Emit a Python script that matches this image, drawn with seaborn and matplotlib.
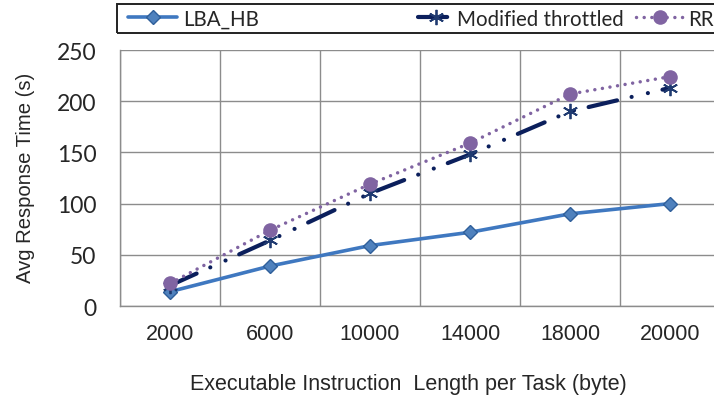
import numpy as np
import pandas as pd
import seaborn as sns
import matplotlib.pyplot as plt
from matplotlib.patches import Rectangle

# data
lengths = ["2000", "6000", "10000", "14000", "18000", "20000"]
lba_hb = [14, 39, 59, 72, 90, 100]
modified_throttled = [20, 64, 110, 148, 190, 213]
rr = [22, 74, 119, 159, 207, 224]
series_names = ["LBA_HB", "Modified throttled", "RR"]
y_ticks = [0, 50, 100, 150, 200, 250]

df = pd.DataFrame({
    "length": lengths * 3,
    "time": lba_hb + modified_throttled + rr,
    "series": np.repeat(series_names, len(lengths)),
})

sns.set_style("white")
plt.rcParams["font.family"] = ["Liberation Sans", "DejaVu Sans"]

colors = {"LBA_HB": "#3F78C0", "Modified throttled": "#0B1F5C", "RR": "#8064A2"}
# round caps: near-zero "on" segments become dots
dashes = {"LBA_HB": "",
          "Modified throttled": (7.0, 3.6, 0.01, 4.0, 0.01, 3.6),
          "RR": (0.01, 2.2)}
markers = {"LBA_HB": "D", "Modified throttled": "s", "RR": "o"}
widths = {"LBA_HB": 2.6, "Modified throttled": 3.0, "RR": 2.5}

fig = plt.figure(figsize=(7.14, 4.02), dpi=100)
ax = fig.add_axes([120 / 714, 1 - 307 / 402, 600 / 714, 256 / 402])

sns.lineplot(data=df, x="length", y="time", hue="series", style="series",
             palette=colors, dashes=dashes, markers=markers, ax=ax,
             linewidth=2.6, legend=False)

# per-line tuning (asterisk is line art, so it is set afterwards)
ms = {"LBA_HB": 7.5, "Modified throttled": 11, "RR": 10.5}
for line, name in zip(ax.lines, series_names):
    line.set_linewidth(widths[name])
    if dashes[name]:
        line.set_dashes(dashes[name])
    line.set_dash_capstyle("round")
    line.set_markersize(ms[name])
    if name == "LBA_HB":
        line.set_markeredgecolor("#2F5F9A")
        line.set_markerfacecolor("#4F81BD")
        line.set_markeredgewidth(1)
    elif name == "Modified throttled":
        line.set_marker((6, 2, 0))
        line.set_markeredgewidth(1.3)
        line.set_markeredgecolor("#1F3A70")
    else:
        line.set_markeredgewidth(0)

ax.set_xlim(-0.5, len(lengths) - 0.5)
ax.set_ylim(0, 250)
ax.set_yticks(y_ticks)
ax.set_xticks(range(len(lengths)))
ax.set_xticks(np.arange(-0.5, len(lengths)), minor=True)
ax.tick_params(axis="x", which="major", length=0, pad=12, labelsize=15.5)
ax.tick_params(axis="x", which="minor", length=6, color="#888888", width=1, direction="out")
ax.tick_params(axis="y", length=7, color="#888888", width=1, direction="out", pad=10)
for lab in ax.get_yticklabels():
    lab.set_fontfamily(["Lato", "DejaVu Sans"])
    lab.set_fontsize(16.5)
ax.grid(True, axis="y", color="#8C8C8C", linewidth=1)
ax.grid(True, axis="x", which="minor", color="#8C8C8C", linewidth=1)
ax.set_axisbelow(True)
for side in ["top", "right"]:
    ax.spines[side].set_visible(False)
for side in ["left", "bottom"]:
    ax.spines[side].set_color("#8C8C8C")
    ax.spines[side].set_linewidth(1)

ax.set_xlabel("Executable Instruction  Length per Task (byte)", fontsize=15.5)
ax.xaxis.set_label_coords(0.48, -0.26)
ax.set_ylabel("Avg Response Time (s)", fontsize=14.6)
ax.yaxis.set_label_coords(-0.142, 0.504)

# legend: framed strip at the top, entries placed like the original
fig.patches.append(Rectangle((117 / 714, 1 - 34 / 402), 620 / 714, 29 / 402,
                             transform=fig.transFigure, fill=False,
                             edgecolor="#222222", linewidth=1.4))
anchors = {"LBA_HB": 128, "Modified throttled": 418, "RR": 636}
hlen = {"LBA_HB": 2.4, "Modified throttled": 1.75, "RR": 2.3}
hpad = {"LBA_HB": 0.3, "Modified throttled": 0.15, "RR": 0.25}
for line, name in zip(ax.lines, series_names):
    leg = fig.legend([line], [name], loc="center left",
                     bbox_to_anchor=(anchors[name] / 714, 1 - 19.5 / 402),
                     frameon=False, handlelength=hlen[name], handletextpad=hpad[name],
                     borderaxespad=0, borderpad=0,
                     prop={"family": ["Lato", "DejaVu Sans"], "size": 14.8})

fig.savefig("out.png", dpi=100)
